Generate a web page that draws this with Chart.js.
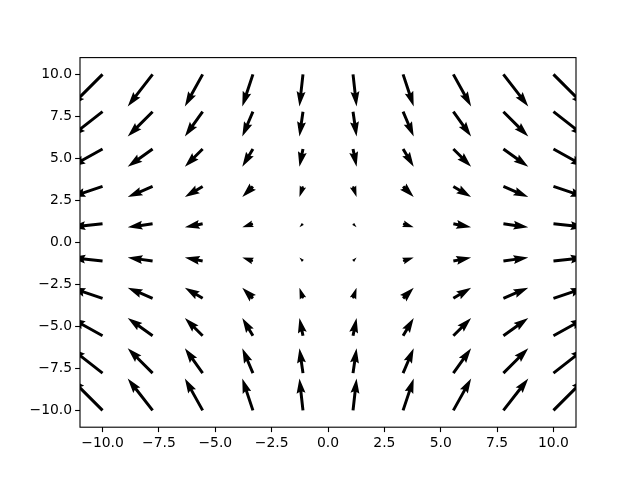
<!DOCTYPE html>
<html>
<head>
<meta charset="utf-8">
<script src="https://cdn.jsdelivr.net/npm/chart.js@4/dist/chart.umd.min.js"></script>
<style>
  html, body { margin: 0; padding: 0; background: #fff; }
  #wrap { width: 640px; height: 480px; }
</style>
</head>
<body>
<div id="wrap"><canvas id="quiverChart" width="640" height="480"></canvas></div>
<script>
// grid positions (data units)
const xVals = [-10, -7.78, -5.56, -3.33, -1.11, 1.11, 3.33, 5.56, 7.78, 10];
const yVals = [-10, -7.78, -5.56, -3.33, -1.11, 1.11, 3.33, 5.56, 7.78, 10];
// vector components: U per column, V per row (rows bottom to top)
const uByCol = [-10, -7.78, -5.56, -3.33, -1.11, 1.11, 3.33, 5.56, 7.78, 10];
const vByRow = [10, 7.78, 5.56, 3.33, 1.11, -1.11, -3.33, -5.56, -7.78, -10];
// tick labels
const xTicks = [-10, -7.5, -5, -2.5, 0, 2.5, 5, 7.5, 10];
const yTicks = [-10, -7.5, -5, -2.5, 0, 2.5, 5, 7.5, 10];

const FONT = { family: "'DejaVu Sans', sans-serif", size: 13.9 };

// build points for the dataset
const points = [];
yVals.forEach((y, j) => {
  xVals.forEach((x, i) => {
    points.push({ x: x, y: y, u: uByCol[i], v: vByRow[j] });
  });
});

function fmt(v) {
  const s = Math.abs(v).toFixed(1);
  return v < 0 ? "\u2212" + s : s;
}

// quiver arrows, same shape rules as matplotlib
const quiverPlugin = {
  id: "quiver",
  afterDatasetsDraw(chart) {
    const ctx = chart.ctx;
    const xs = chart.scales.x;
    const ys = chart.scales.y;
    const area = chart.chartArea;
    const w = 2.98;       // shaft width px
    const pxPerUnit = 3.2; // arrow length per data unit
    const hl = 5, hal = 4.5, hw = 3; // head length, head axis length, head width (in widths)

    ctx.save();
    ctx.beginPath();
    ctx.rect(area.left, area.top, area.right - area.left, area.bottom - area.top);
    ctx.clip();
    ctx.fillStyle = "#000";

    chart.data.datasets[0].data.forEach((p) => {
      const px = xs.getPixelForValue(p.x);
      const py = ys.getPixelForValue(p.y);
      const mag = Math.sqrt(p.u * p.u + p.v * p.v);
      const L = (mag * pxPerUnit) / w; // in widths
      const ang = Math.atan2(-p.v, p.u);
      let X, Y;
      if (L < 1) {
        X = []; Y = [];
        for (let k = 0; k < 8; k++) {
          X.push(Math.cos(k * Math.PI / 3) * 0.5);
          Y.push(Math.sin(k * Math.PI / 3) * 0.5);
        }
      } else if (L < hl) {
        const s = L / hl;
        const x0 = [0, hl - hal, 0, hl, 0, hl - hal, 0];
        X = [0, hl - hal, 0, hl, 0, hl - hal, 0].map((v) => v * s);
        Y = [0.5, 0.5, hw / 2, 0, -hw / 2, -0.5, -0.5].map((v) => v * s);
      } else {
        X = [0, L - hal, L - hl, L, L - hl, L - hal, 0];
        Y = [0.5, 0.5, hw / 2, 0, -hw / 2, -0.5, -0.5];
      }
      const c = Math.cos(ang), s = Math.sin(ang);
      ctx.beginPath();
      X.forEach((xv, k) => {
        const ax = xv * w, ay = Y[k] * w;
        const qx = px + ax * c - ay * s;
        const qy = py + ax * s + ay * c;
        if (k === 0) ctx.moveTo(qx, qy); else ctx.lineTo(qx, qy);
      });
      ctx.closePath();
      ctx.fill();
    });
    ctx.restore();

    // axes frame
    ctx.save();
    ctx.strokeStyle = "#000";
    ctx.lineWidth = 1.11;
    ctx.strokeRect(area.left, area.top, area.right - area.left, area.bottom - area.top);
    ctx.restore();
  },
};

const ctx = document.getElementById("quiverChart").getContext("2d");
new Chart(ctx, {
  type: "scatter",
  data: {
    datasets: [{ data: points, pointRadius: 0, pointHoverRadius: 0 }],
  },
  options: {
    responsive: false,
    animation: false,
    layout: { padding: { left: 0, top: 57.6, right: 64, bottom: 0 } },
    plugins: { legend: { display: false }, tooltip: { enabled: false } },
    scales: {
      x: {
        type: "linear",
        min: -11,
        max: 11,
        afterBuildTicks: (scale) => { scale.ticks = xTicks.map((v) => ({ value: v })); },
        afterFit: (scale) => { scale.height = 480 - 427.2 - 0; },
        ticks: { color: "#000", font: FONT, padding: 3, maxRotation: 0, autoSkip: false, callback: (v) => fmt(v) },
        grid: { drawOnChartArea: false, drawTicks: true, tickLength: 4.9, tickColor: "#000", tickWidth: 1.11 },
        border: { display: false },
      },
      y: {
        type: "linear",
        min: -11,
        max: 11,
        afterBuildTicks: (scale) => { scale.ticks = yTicks.map((v) => ({ value: v })); },
        afterFit: (scale) => { scale.width = 80; },
        ticks: { color: "#000", font: FONT, padding: 3, autoSkip: false, callback: (v) => fmt(v) },
        grid: { drawOnChartArea: false, drawTicks: true, tickLength: 4.9, tickColor: "#000", tickWidth: 1.11 },
        border: { display: false },
      },
    },
  },
  plugins: [quiverPlugin],
});
</script>
</body>
</html>
